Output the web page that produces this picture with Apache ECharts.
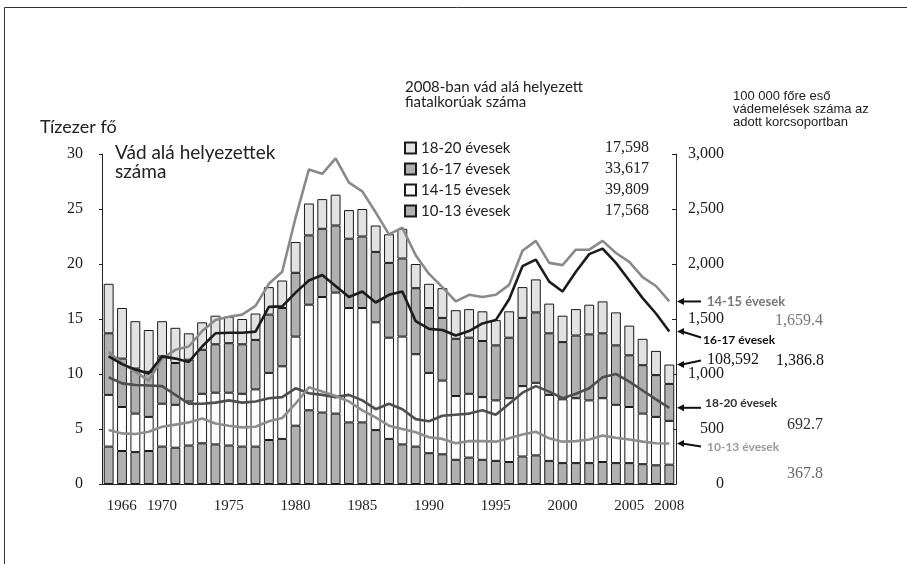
<!DOCTYPE html>
<html>
<head>
<meta charset="utf-8">
<script src="https://cdn.jsdelivr.net/npm/echarts@6/dist/echarts.min.js"></script>
<style>
  html, body { margin: 0; padding: 0; background: #fff; }
  #main { width: 907px; height: 564px; }
</style>
</head>
<body>
<div id="main"></div>
<script>
// évek
var years = ['1966','1967','1968','1969','1970','1971','1972','1973','1974','1975',
  '1976','1977','1978','1979','1980','1981','1982','1983','1984','1985',
  '1986','1987','1988','1989','1990','1991','1992','1993','1994','1995',
  '1996','1997','1998','1999','2000','2001','2002','2003','2004','2005',
  '2006','2007','2008'];

// vád alá helyezettek száma (tízezer fő), korcsoportonként
var age10_13 = [3.4,3.0,2.9,3.0,3.4,3.3,3.5,3.7,3.6,3.5,3.4,3.4,4.0,4.1,5.3,6.7,6.5,6.4,5.6,5.6,
  4.9,4.1,3.6,3.4,2.8,2.7,2.2,2.4,2.2,2.1,2.0,2.5,2.6,2.1,1.9,1.9,1.9,2.0,1.9,1.9,1.8,1.7,1.7568];
var age14_15 = [4.7,4.0,3.5,3.1,3.9,3.9,4.0,4.5,4.7,4.8,4.8,5.2,6.1,6.6,8.1,9.6,10.5,11.0,10.4,10.4,
  9.8,9.2,9.8,8.4,7.3,6.7,5.8,5.8,5.7,5.5,5.8,6.4,6.6,6.0,5.8,5.9,5.7,5.8,5.3,5.1,4.6,4.4,3.9809];
var age16_17 = [5.6,4.4,4.1,4.1,4.3,3.8,3.8,4.0,4.4,4.5,4.5,4.5,5.3,5.3,5.8,6.3,6.2,6.1,6.3,6.5,
  6.4,6.8,7.1,6.0,5.9,5.7,5.2,5.1,5.1,5.0,5.5,6.2,6.4,5.6,5.2,5.7,6.0,5.9,5.4,4.7,4.4,3.8,3.3617];
var age18_20 = [4.5,4.6,4.3,3.8,3.2,3.2,2.4,2.5,2.6,2.4,2.3,2.4,2.5,2.5,2.8,2.9,2.7,2.8,2.6,2.5,
  2.4,2.6,2.7,2.2,2.2,2.7,2.6,2.6,2.7,2.3,2.4,2.8,3.0,2.7,2.4,2.4,2.7,2.9,3.0,2.7,2.4,2.2,1.7598];

// 2008-ban vád alá helyezett fiatalkorúak száma (fő)
var counts2008 = { '18-20 évesek': 17598, '16-17 évesek': 33617, '14-15 évesek': 39809, '10-13 évesek': 17568 };
var total2008 = 108592;

// 100 000 főre eső vádemelések száma
var rate14_15 = [1200,1100,1020,940,1140,1220,1250,1390,1490,1520,1540,1620,1820,1930,2420,2860,2820,2960,2740,2660,
  2470,2270,2330,2080,1910,1790,1660,1720,1700,1720,1810,2120,2210,2010,1990,2130,2130,2210,2100,2020,1880,1800,1659.4];
var rate16_17 = [1160,1090,1040,1005,1160,1140,1110,1250,1370,1375,1375,1385,1610,1615,1740,1850,1900,1800,1700,1750,
  1650,1720,1750,1480,1410,1400,1350,1390,1460,1490,1680,1980,2040,1840,1750,1930,2090,2140,2010,1850,1690,1550,1386.8];
var rate18_20 = [970,915,900,895,890,810,730,730,740,760,740,750,780,790,870,825,810,790,810,760,
  680,730,680,590,570,620,630,640,670,630,730,830,890,840,780,820,870,970,1000,930,850,770,692.7];
var rate10_13 = [490,460,455,475,520,540,560,595,550,530,515,520,570,600,730,880,840,800,750,670,
  605,530,500,470,425,410,370,390,390,385,415,450,475,415,385,390,405,440,420,405,385,370,367.8];

var sans = 'Lato, "Open Sans", sans-serif';
var serif = '"Liberation Serif", "DejaVu Serif", serif';

var chart = echarts.init(document.getElementById('main'));

function barSeries(name, data, color) {
  return {
    name: name,
    type: 'bar',
    stack: 'total',
    barWidth: '74%',
    data: data,
    itemStyle: { color: color, borderColor: '#1a1a1a', borderWidth: 1 },
    emphasis: { disabled: true }
  };
}
function lineSeries(name, data, color) {
  return {
    name: name,
    type: 'line',
    yAxisIndex: 1,
    data: data,
    symbol: 'none',
    z: 5,
    lineStyle: { color: color, width: 2.6 },
    emphasis: { disabled: true }
  };
}

var option = {
  animation: false,
  backgroundColor: '#fff',
  grid: { left: 102, right: 231, top: 154, bottom: 80 },
  legend: {
    orient: 'vertical',
    left: 399,
    top: 135,
    itemWidth: 11,
    itemHeight: 11,
    itemGap: 5,
    icon: 'rect',
    data: ['18-20 évesek', '16-17 évesek', '14-15 évesek', '10-13 évesek'],
    formatter: function (name) {
      return '{n|' + name + '}{v|' + counts2008[name].toLocaleString('en-US') + '}';
    },
    textStyle: {
      rich: {
        n: { fontFamily: sans, fontSize: 15, color: '#222', width: 170, lineHeight: 15 },
        v: { fontFamily: serif, fontSize: 16, color: '#222', width: 58, align: 'right', lineHeight: 15 }
      }
    }
  },
  xAxis: {
    type: 'category',
    data: years,
    axisLine: { lineStyle: { color: '#222' } },
    axisTick: { show: false },
    axisLabel: {
      interval: 0,
      margin: 15,
      fontFamily: serif,
      fontSize: 15,
      color: '#222',
      formatter: function (v) {
        var y = +v;
        if (y === 1966) return '{f|1966}';
        if (y % 5 === 0 || y === 2008) return v;
        return '';
      },
      rich: { f: { fontFamily: serif, fontSize: 15, color: '#222', padding: [0, 0, 0, 26] } }
    }
  },
  yAxis: [
    {
      type: 'value', min: 0, max: 30, interval: 5,
      splitLine: { show: false },
      axisLine: { show: true, lineStyle: { color: '#222' } },
      axisTick: { show: true, length: 3, lineStyle: { color: '#222' } },
      axisLabel: { margin: 19, fontFamily: serif, fontSize: 16, color: '#1a1a1a' }
    },
    {
      type: 'value', min: 0, max: 3000, interval: 500,
      position: 'right',
      splitLine: { show: false },
      axisLine: { show: true, lineStyle: { color: '#222' } },
      axisTick: { show: true, inside: true, length: 4, lineStyle: { color: '#222' } },
      axisLabel: { margin: 48, align: 'right', fontFamily: serif, fontSize: 16, color: '#1a1a1a' }
    }
  ],
  series: [
    barSeries('10-13 évesek', age10_13, '#b0b0b0'),
    barSeries('14-15 évesek', age14_15, '#fcfcfc'),
    barSeries('16-17 évesek', age16_17, '#b0b0b0'),
    barSeries('18-20 évesek', age18_20, '#e2e2e2'),
    lineSeries('14-15 évesek – ráta', rate14_15, '#8a8a8a'),
    lineSeries('16-17 évesek – ráta', rate16_17, '#1c1c1c'),
    lineSeries('18-20 évesek – ráta', rate18_20, '#4f4f4f'),
    lineSeries('10-13 évesek – ráta', rate10_13, '#8e8e8e')
  ]
};
chart.setOption(option);

// szöveges feliratok és nyilak a jobb oldalon
var last = years.length - 1;
var axisX = 907 - 231;

function arrow(tipY, tailDy) {
  return [
    { type: 'line', shape: { x1: axisX + 6, y1: tipY, x2: axisX + 25, y2: tipY + tailDy },
      style: { stroke: '#111', lineWidth: 2 } },
    { type: 'polygon', shape: { points: [[axisX + 1, tipY], [axisX + 8, tipY - 3.5], [axisX + 8, tipY + 3.5]] },
      style: { fill: '#111' } }
  ];
}
function txt(x, y, text, font, size, color, weight, va) {
  return { type: 'text', x: x, y: y,
    style: { text: text, fontFamily: font, fontSize: size, fill: color, fontWeight: weight || 'normal',
      textVerticalAlign: va || 'middle', verticalAlign: va || 'middle' } };
}
function fmt(v) { return v.toLocaleString('en-US', { minimumFractionDigits: 1, maximumFractionDigits: 1 }); }

var y1415 = chart.convertToPixel({ yAxisIndex: 1 }, rate14_15[last]);
var y1617 = chart.convertToPixel({ yAxisIndex: 1 }, rate16_17[last]);
var y1820 = chart.convertToPixel({ yAxisIndex: 1 }, rate18_20[last]);
var y1013 = chart.convertToPixel({ yAxisIndex: 1 }, rate10_13[last]);
var yTot = chart.convertToPixel({ yAxisIndex: 0 }, total2008 / 10000);

var elems = [
  { type: 'rect', shape: { x: 4.5, y: 7.5, width: 1000, height: 1000 },
    style: { fill: null, stroke: '#333', lineWidth: 1 }, silent: true },
  txt(40, 127, 'Tízezer fő', sans, 18, '#222'),
  txt(115, 143, 'Vád alá helyezettek\nszáma', sans, 19, '#222', 'normal', 'top'),
  txt(405, 80, '2008-ban vád alá helyezett\nfiatalkorúak száma', sans, 15, '#222', 'normal', 'top'),
  txt(733, 90, '100 000 főre eső\nvádemelések száma az\nadott korcsoportban', '"Liberation Sans", Arial, sans-serif', 13, '#222', 'normal', 'top'),

  txt(707, y1415, '14-15 évesek', sans, 13, '#777', 'bold'),
  txt(775, y1415 + 19, fmt(rate14_15[last]), serif, 16, '#777'),

  txt(703, y1617 + 9, '16-17 évesek', sans, 12, '#111', 'bold'),
  txt(776, y1617 + 29, fmt(rate16_17[last]), serif, 16, '#111'),

  txt(707, yTot - 5, total2008.toLocaleString('en-US'), serif, 16, '#111'),

  txt(705, y1820 - 5, '18-20 évesek', sans, 12, '#333', 'bold'),
  txt(787, y1820 + 17, fmt(rate18_20[last]), serif, 16, '#333'),

  txt(707, y1013 + 4, '10-13 évesek', sans, 12, '#9a9a9a', 'bold'),
  txt(787, y1013 + 30, fmt(rate10_13[last]), serif, 16, '#666')
];
elems = elems.concat(arrow(y1415, 0), arrow(y1617, 6), arrow(yTot, -4), arrow(y1820, 0), arrow(y1013, 3));

chart.setOption({ graphic: elems });
</script>
</body>
</html>
